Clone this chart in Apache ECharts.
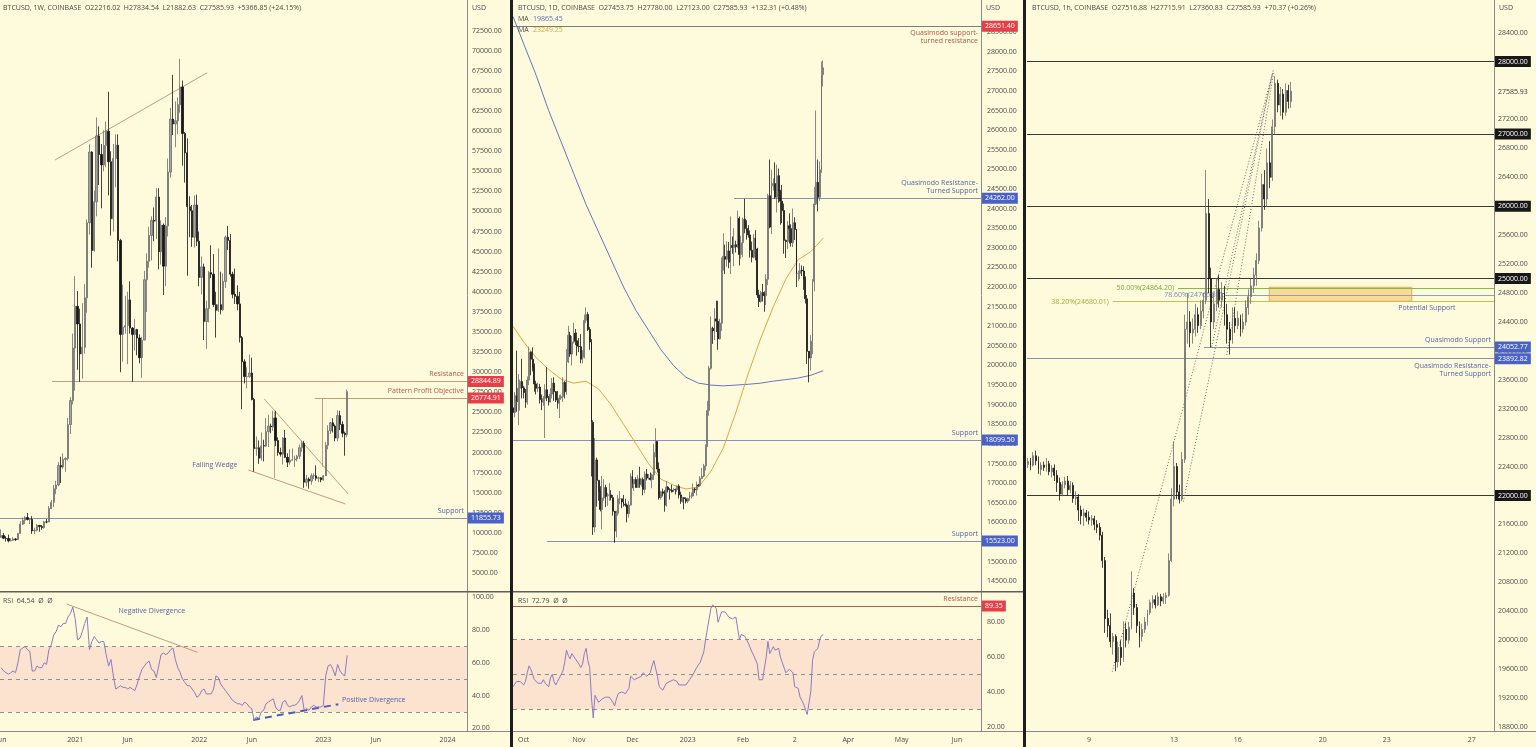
<!DOCTYPE html>
<html><head><meta charset="utf-8">
<script src="https://cdn.jsdelivr.net/npm/echarts@6/dist/echarts.min.js"></script>
<style>html,body{margin:0;padding:0;background:#fefbdc;overflow:hidden}#c{width:1536px;height:747px}</style>
</head><body><div id="c"></div>
<script>
// ---------------- DATA ----------------
const WEEKLY_START = '2020-06-01';
// weekly candles [open, close, low, high]
const WEEKLY = [
[9450,9670,9380,10430],[9670,9330,9230,9990],[9330,9300,8930,9590],[9300,9010,8830,9780],[9010,9070,8960,9330],
[9070,9240,9050,9480],[9240,9160,9000,9340],[9160,9930,9130,10000],[9930,11080,9920,11450],[11080,11570,10960,11900],
[11570,11910,11100,12100],[11910,11670,11550,12480],[11670,11680,11100,11740],[11680,10250,9880,12090],[10250,10330,9850,10650],
[10330,10930,10200,11100],[10930,10780,10150,10990],[10780,10670,10380,10980],[10670,11370,10520,11500],[11370,11360,11200,11720],
[11360,13030,11340,13350],[13030,13800,12950,14100],[13800,15480,13200,15960],[15480,15960,14820,16490],[15960,18400,15800,18800],
[18400,18200,16200,19480],[18200,19150,18000,19900],[19150,19270,17600,19400],[19270,23480,19000,24300],[23480,26470,22300,26900],
[26470,33000,26000,34800],[33000,38200,27700,41950],[38200,36000,30300,40100],[36000,32280,28800,37900],[32280,33100,29200,38600],
[33100,39250,32300,40960],[39250,48600,37400,49000],[48600,57400,47100,58350],[57400,45150,43000,57500],[45150,51200,45000,52600],
[51200,59400,49400,61700],[59400,57100,53300,60600],[57100,55800,50400,58400],[55800,58200,55000,60100],[58200,60000,55500,61200],
[60000,56200,52000,64900],[56200,49100,47000,57500],[49100,56600,47500,58400],[56600,58250,53000,59600],[58250,46400,43800,59600],
[46400,34700,30000,46600],[34700,35600,31300,40900],[35600,35800,34800,39500],[35800,39000,31000,40000],[39000,35500,34800,41300],
[35500,34700,28800,35600],[34700,35300,32700,36600],[35300,34250,32100,35400],[34250,31800,31100,34700],[31800,34000,29300,34400],
[34000,41500,34000,42600],[41500,43800,37500,44800],[43800,47000,43000,48100],[47000,48900,43900,49400],[48900,48800,46300,50500],
[48800,51800,46600,52900],[51800,45000,42800,52900],[45000,48300,43400,48900],[48300,43200,39600,48500],[43200,48200,40700,49300],
[48200,54900,46900,56600],[54900,61500,54200,62900],[61500,60900,59500,67000],[60900,61300,58000,63700],[61300,63300,59600,64200],
[63300,65500,62300,69000],[65500,59700,55700,66300],[59700,57300,53600,59900],[57300,50600,42000,59100],[50600,50100,46800,51900],
[50100,46800,45600,50800],[46800,50800,45500,52000],[50800,46300,45700,52100],[46300,41800,40700,47500],[41800,43100,39700,44400],
[43100,36300,34000,43500],[36300,37900,32900,38900],[37900,42400,36200,42600],[42400,42200,41700,45800],[42200,38400,38100,44700],
[38400,37700,34300,40000],[37700,38400,37500,45400],[38400,37800,37200,42500],[37800,41300,37600,42300],[41300,46800,40500,47000],
[46800,46400,45200,48200],[46400,42200,41900,47200],[42200,39700,39200,42500],[39700,39450,38500,42900],[39450,38500,37700,40800],
[38500,34300,33700,40000],[34300,31300,25400,34500],[31300,29450,28600,31600],[29450,29450,28000,30600],[29450,29900,29300,32200],
[29900,26600,26500,31800],[26600,20500,17600,26800],[20500,20600,19600,22000],[20600,19300,18600,21500],[19300,20850,19000,22500],
[20850,20800,18900,21600],[20800,22600,20700,24300],[22600,23300,20700,24700],[23300,23200,22400,23600],[23200,24300,22700,25200],
[24300,21500,20800,25200],[21500,20000,19600,21900],[20000,19800,19500,20600],[19800,21800,18500,21900],[21800,19400,19300,22800],
[19400,18800,18200,19900],[18800,19050,18500,20400],[19050,19100,19000,20500],[19100,19200,18200,19600],[19200,19550,18900,19700],
[19550,20600,19200,21000],[20600,21150,20100,21450],[21150,16300,15600,21450],[16300,16700,15800,17200],[16700,16450,15500,16900],
[16450,17100,16000,17400],[17100,17130,16700,17400],[17100,16800,16500,18400],[16800,16850,16300,17000],[16850,16600,16300,16950],
[16600,17100,16500,17200],[17100,20900,17100,21300],[20900,22700,20400,23400],[22700,23700,22300,23800],[23700,23300,22500,24250],
[23300,21800,21400,23500],[21800,24600,21400,25250],[24600,23500,22800,25200],[23500,22400,21900,23900],[22400,22216,19600,22600],
[22216,27586,21882,27835]
];
const WEEKLY_RSI = [57,55,54,53,54,55,54,60,68,69,70,68,67,55,55,58,57,57,60,59,68,71,77,79,83,82,84,84,88,90,94,87,74,75,79,84,88,68,73,76,
74,72,73,73,65,58,62,52,44,45,46,45,45,44,45,44,43,47,52,56,58,60,61,56,55,51,58,65,66,65,66,68,69,62,57,54,50,48,46,46,
44,42,39,40,43,44,41,41,41,44,52,51,47,45,43,41,39,37,36,35,35,34,36,35,33,32,25,27,26,30,31,35,36,37,38,33,31,31,36,37,
34,33,34,34,35,37,40,31,32,31,33,34,33,33,33,34,52,58,59,56,52,59,55,53,52,64.54];

const DAILY_START = '2022-09-25';
const DAILY = [
[18920,18800,18630,19180],[18800,19230,18680,19320],[19230,19080,18820,20380],[19080,19420,18480,19780],[19420,19590,18850,19640],[19590,19430,19160,20170],
[19430,19310,19160,19480],[19310,19060,18920,19400],[19060,19630,19000,19720],[19630,20340,19500,20480],[20340,20160,19750,20360],[20160,19960,19850,20460],
[19960,19530,19330,20050],[19530,19420,19260,19610],[19420,19450,19320,19560],[19450,19130,19030,19530],[19130,19060,18860,19260],[19060,19160,18970,19220],
[19160,19380,18150,19520],[19380,19180,19090,19950],[19180,19070,18980,19220],[19070,19270,19060,19420],[19270,19550,19160,19680],[19550,19330,19100,19700],
[19330,19120,19070,19350],[19120,19040,18900,19350],[19040,19170,18660,19250],[19170,19210,19120,19260],[19210,19570,19070,19700],[19570,19330,19160,19600],
[19330,20090,19250,20420],[20090,20770,20060,21010],[20770,20290,20220,20860],[20290,20600,20000,20750],[20600,20820,20560,21090],[20820,20630,20520,20930],
[20630,20490,20250,20840],[20490,20480,20340,20700],[20480,20160,20060,20800],[20160,20210,20050,20390],[20210,21150,20180,21300],[21150,21300,21080,21480],
[21300,20920,20880,21360],[20920,20600,20400,20980],[20600,18550,17170,20670],[18550,15880,15680,18600],[15880,17590,15750,18150],[17590,17070,16400,17650],
[17070,16800,16550,17070],[16800,16330,16280,16920],[16330,16620,15820,17180],[16620,16890,16550,17100],[16890,16660,16390,16960],[16660,16690,16420,16750],
[16690,16700,16550,17000],[16700,16630,16560,16820],[16630,16280,16170,16700],[16280,15780,15480,16290],[15780,16230,15620,16300],[16230,16600,16170,16700],
[16600,16600,16460,16800],[16600,16520,16360,16600],[16520,16460,16400,16700],[16460,16440,16400,16600],[16440,16220,16000,16480],[16220,16440,16120,16540],
[16440,17170,16430,17250],[17170,16980,16870,17330],[16980,17090,16800,17100],[17090,16890,16880,17150],[16890,17110,16880,17200],[17110,16970,16880,17420],
[16970,17090,16910,17110],[17090,16840,16690,17140],[16840,17230,16740,17300],[17230,17130,17070,17360],[17130,17130,17090,17230],[17130,17090,17070,17270],
[17090,17210,16870,17240],[17210,17780,17080,18000],[17780,18060,17660,18400],[18060,17360,17270,18070],[17360,16630,16580,17530],[16630,16780,16580,16800],
[16780,16740,16660,16860],[16740,16440,16270,16820],[16440,16900,16400,17050],[16900,16830,16760,16920],[16830,16820,16580,16870],[16820,16780,16760,16960],
[16780,16840,16770,16870],[16840,16830,16710,16860],[16830,16920,16780,16940],[16920,16700,16610,16970],[16700,16540,16470,16780],[16540,16630,16500,16650],
[16630,16600,16330,16640],[16600,16540,16480,16640],[16540,16610,16490,16630],[16610,16670,16550,16780],[16670,16670,16610,16760],[16670,16850,16660,16990],
[16850,16830,16750,16880],[16830,16950,16680,17040],[16950,16940,16910,16980],[16940,17120,16910,17180],[17120,17180,17100,17390],[17180,17440,17150,17490],
[17440,17940,17320,17990],[17940,18850,17920,19100],[18850,19930,18720,19990],[19930,20950,19890,21250],[20950,20880,20550,20990],[20880,21190,20650,21460],
[21190,21130,20850,21650],[21130,20680,20400,21650],[20680,21080,20660,21190],[21080,22670,20880,22750],[22670,22780,22420,23370],[22780,22710,22330,23080],
[22710,22920,22520,23170],[22920,22630,22480,23150],[22630,23060,22330,23800],[23060,23010,22850,23290],[23010,23080,22530,23500],[23080,23030,22880,23180],
[23030,23750,22990,23950],[23750,22830,22550,23800],[22830,23130,22720,23310],[23130,23730,22760,23770],[23730,23490,23370,24250],[23490,23430,23210,23700],
[23430,23330,23260,23580],[23330,22940,22750,23440],[22940,22760,22630,23160],[22760,23250,22730,23350],[23250,22970,22680,23450],[22970,21800,21720,23000],
[21800,21630,21490,21930],[21630,21860,21600,21900],[21860,21790,21630,22080],[21790,21780,21370,21890],[21780,22200,21540,22330],[22200,24330,22050,24380],
[24330,23530,23500,25250],[23530,24580,23350,24990],[24580,24640,24460,24770],[24640,24290,24250,25180],[24290,24840,23900,25120],[24840,24440,24150,25020],
[24440,24190,23590,24480],[24190,23950,23630,24600],[23950,23190,22850,24130],[23190,23160,22740,23210],[23160,23560,22970,23680],[23560,23490,23110,23880],
[23490,23130,23030,23600],[23130,23640,23020,24000],[23640,23470,23200,23780],[23470,22350,22000,23480],[22350,22350,22160,22420],[22350,22430,22200,22610],
[22430,22410,22280,22550],[22410,22200,21930,22530],[22200,21700,21580,22270],[21700,20360,20040,21800],[20360,20190,19570,20370],[20190,20620,19870,20770],
[20620,22140,20290,22200],[22140,24120,21890,24550],[24120,24670,24090,26500],[24670,24290,23930,25250],[24290,24990,24200,25200],[24990,27420,24910,27750],
[27420,27590,27120,27780]
];
const DAILY_RSI = [43,44,46,47,46,45,44,46,51,55,53,50,47,46,45,44,45,47,45,46,43,48,50,46,44,46,47,50,52,57,
64,61,59,62,63,59,58,56,54,56,62,65,58,54,37,25,38,36,34,35,36,37,37,36,37,36,34,32,36,39,
40,40,40,39,38,42,49,48,47,48,48,47,49,51,50,49,50,51,55,58,57,49,43,42,41,42,45,46,46,47,
47,48,46,44,43,44,43,44,45,47,46,50,52,54,55,57,60,63,70,76,82,88,90,89,88,80,81,86,87,86,
86,83,82,82,82,83,84,70,73,74,72,70,68,67,63,61,62,56,47,46,47,47,60,69,62,64,66,64,63,65,
60,57,56,51,50,53,52,51,43,42,42,37,35,33,30,27,27,40,58,63,62,65,70,72.5,72.79];
// moving averages [date, value]
const MA_BLUE = [['2022-09-25',28900],['2022-10-01',28200],['2022-10-08',27400],['2022-10-15',26500],['2022-10-22',25700],['2022-10-29',24900],
['2022-11-05',24100],['2022-11-12',23400],['2022-11-19',22700],['2022-11-26',22000],['2022-12-03',21400],['2022-12-10',20900],['2022-12-17',20400],
['2022-12-24',20000],['2022-12-31',19700],['2023-01-07',19550],['2023-01-14',19500],['2023-01-21',19480],['2023-01-28',19500],['2023-02-04',19520],
['2023-02-11',19550],['2023-02-18',19600],['2023-02-25',19640],['2023-03-04',19680],['2023-03-11',19750],['2023-03-18',19865.45]];
const MA_ORANGE = [['2022-09-25',21000],['2022-10-01',20600],['2022-10-08',20200],['2022-10-15',19900],['2022-10-22',19650],['2022-10-29',19550],
['2022-11-05',19600],['2022-11-12',19400],['2022-11-19',19000],['2022-11-26',18500],['2022-12-03',18000],['2022-12-10',17500],['2022-12-17',17100],
['2022-12-24',16950],['2022-12-31',16850],['2023-01-07',16900],['2023-01-14',17300],['2023-01-21',17900],['2023-01-28',18800],['2023-02-04',19800],
['2023-02-11',20700],['2023-02-18',21500],['2023-02-25',22200],['2023-03-04',22700],['2023-03-11',22900],['2023-03-18',23249.25]];

const HOURLY_START = '2023-03-06 03:00'; // 3-hour steps
const HOURLY = [
[22430,22470,22380,22520],[22470,22420,22350,22520],[22420,22550,22400,22600],[22550,22480,22420,22620],[22480,22360,22300,22540],[22360,22420,22280,22460],[22420,22390,22340,22470],
[22390,22440,22330,22520],[22440,22330,22280,22480],[22330,22380,22250,22420],[22380,22280,22200,22430],[22280,22180,22050,22350],[22180,22020,21930,22250],[22020,22150,21990,22200],[22150,22200,22100,22260],
[22200,22080,22000,22270],[22080,22140,22030,22200],[22140,21960,21900,22180],[21960,21980,21870,22060],[21980,21800,21650,22020],[21800,21720,21600,21860],[21720,21760,21580,21820],[21760,21700,21640,21800],
[21700,21660,21600,21780],[21660,21680,21580,21730],[21680,21600,21520,21720],[21600,21560,21480,21660],[21560,21450,21380,21620],[21450,21100,21000,21500],[21100,20300,20100,21150],[20300,20200,20040,20420],
[20200,19980,19900,20370],[19980,20050,19800,20100],[20050,19700,19570,20080],[19700,19900,19620,19980],[19900,19760,19650,20000],[19760,20150,19700,20260],[20150,20000,19900,20240],[20000,20180,19950,20250],
[20180,20650,20150,20950],[20650,20450,20350,20720],[20450,20200,20100,20500],[20200,20050,19900,20260],[20050,20150,19980,20230],[20150,20250,20100,20320],[20250,20380,20200,20420],[20380,20520,20350,20560],
[20520,20560,20440,20620],[20560,20490,20440,20620],[20490,20600,20470,20660],[20600,20540,20470,20640],[20540,20590,20500,20650],[20590,20620,20500,20660],[20620,21100,20600,21200],[21100,21950,21080,22100],
[21950,22400,21850,22750],[22400,22050,21950,22450],[22050,21950,21890,22150],[21950,22500,21920,22600],[22500,24300,22450,24500],[24300,24400,24100,24800],[24400,24250,24050,24550],[24250,24300,24100,24450],
[24300,24500,24200,24650],[24500,24350,24250,24600],[24350,24550,24300,24700],[24550,24700,24450,24800],[24700,25900,24650,26500],[25900,25000,24800,26100],[25000,24400,24050,25150],[24400,24650,24300,24800],
[24650,24850,24550,25000],[24850,24700,24600,25050],[24700,24800,24600,24950],[24800,24500,24350,24900],[24500,24300,24100,24650],[24300,24150,23950,24400],[24150,24450,24100,24600],[24450,24350,24250,24600],
[24350,24450,24300,24550],[24450,24300,24200,24500],[24300,24400,24250,24520],[24400,24600,24350,24700],[24600,24750,24500,24850],[24750,24900,24650,25000],[24900,25050,24800,25150],[25050,25250,24900,25350],
[25250,25700,25200,25800],[25700,26300,25650,26450],[26300,26100,25950,26500],[26100,26600,26000,26800],[26600,26400,26250,26900],[26400,27100,26350,27200],[27100,27700,27000,27800],[27700,27400,27300,27750],
[27400,27550,27250,27650],[27550,27300,27200,27620],[27300,27600,27250,27700],[27600,27450,27350,27680],[27450,27590,27360,27720]
];

// axis tick labels
const LEFT_TICKS = [5000,7500,10000,12500,15000,17500,20000,22500,25000,27500,30000,32500,35000,37500,40000,42500,45000,47500,50000,52500,55000,57500,60000,62500,65000,67500,70000,72500];
const MID_TICKS = [14500,15000,15500,16000,16500,17000,17500,18000,18500,19000,19500,20000,20500,21000,21500,22000,22500,23000,23500,24000,24500,25000,25500,26000,26500,27000,27500,28000,28500];
const RIGHT_TICKS = [18800,19200,19600,20000,20400,20800,21200,21600,22000,22400,22800,23200,23600,24000,24400,24800,25200,25600,26000,26400,26800,27200,27600,28000,28400];
const RSI_TICKS_L = [20,40,60,80,100];
const RSI_TICKS_M = [20,40,60,80];
const LEFT_XLABELS = [['2020-06-01','Jun'],['2021-01-04','2021'],['2021-06-07','Jun'],['2022-01-03','2022'],['2022-06-06','Jun'],['2023-01-02','2023'],['2023-06-05','Jun'],['2024-01-01','2024']];
const MID_XLABELS = [['2022-10-01','Oct'],['2022-11-01','Nov'],['2022-12-01','Dec'],['2023-01-01','2023'],['2023-02-01','Feb'],['2023-03-02','2'],['2023-04-01','Apr'],['2023-05-01','May'],['2023-06-01','Jun']];
const RIGHT_XLABELS = [['2023-03-09','9'],['2023-03-13','13'],['2023-03-16','16'],['2023-03-20','20'],['2023-03-23','23'],['2023-03-27','27']];

// annotation levels / drawings [date, price]
const L_RESIST = 28844.89, L_OBJECTIVE = 26774.91, L_SUPPORT = 11855.73;
const L_TOPLINE = [['2020-11-06',56408],['2022-01-26',67273]];
const L_WEDGE_UP = [['2022-07-13',26663],['2023-03-16',14840]];
const L_WEDGE_LO = [['2022-05-27',17827],['2023-03-08',13595]];
const L_VERT1 = [['2022-08-10',25082],['2022-08-10',16830]];
const L_VERT2 = [['2022-12-31',26788],['2022-12-31',18238]];
const L_RES_FROM = '2020-10-28', L_OBJ_FROM = '2022-12-08';
const L_WEDGE_TXT = ['2022-02-18',18448];
const L_NEGDIV = [['2020-12-10',95.9],['2021-12-29',66.4]];
const L_POSDIV = [['2022-06-10',25.1],['2023-02-15',34.7]];
const L_NEGDIV_TXT = ['2021-08-17',91.6], L_POSDIV_TXT = ['2023-02-26',37.3];
const M_QM_RES = 28651.40, M_QM_SUP = 24262.00, M_SUP1 = 18099.50, M_SUP2 = 15523.00, M_RSI_RES = 89.35;
const M_QM_SUP_FROM = '2023-01-27', M_SUP2_FROM = '2022-10-14';
const R_BLACK = [28000,27000,26000,25000,22000];
const R_QM_SUP = 24052.77, R_QM_RTS = 23892.82, R_LAST = 27585.93;
const R_QM_SUP_FROM = '2023-03-14 09:50';
const R_FIB = [['50.00%(24864.20)',24864.20,'2023-03-13 04:30','#86b94a','#6fa83a'],['38.20%(24680.01)',24680.01,'2023-03-10 03:00','#c6bf52','#aaa636'],['78.60%(24766.80)',24766.80,'2023-03-15 10:30','#8aa3bd','#6f8fb0']];
const R_ZONE = [['2023-03-17 11:30',24880],['2023-03-24 04:20',24686]];
const R_ZONE_TXT = ['2023-03-24 21:30',24597];
const R_DOTTED = [
 [['2023-03-10 02:20',19564],['2023-03-17 15:40',27861]],
 [['2023-03-13 10:30',21915],['2023-03-17 15:00',27830]],
 [['2023-03-14 18:30',24058],['2023-03-17 16:00',27880]],
 [['2023-03-15 11:30',23943],['2023-03-17 16:30',27850]]
];

// ---------------- BUILD ----------------
const D = s => { const m = s.match(/(\d+)-(\d+)-(\d+)(?:[ T](\d+)(?::(\d+))?)?/); return Date.UTC(+m[1], m[2]-1, +m[3], +(m[4]||0), +(m[5]||0)); };
const HOUR = 3600e3, DAY = 24*HOUR, WEEK = 7*DAY;
const L_XMIN = D('2020-06-01') - 0.503*WEEK, L_XMAX = L_XMIN + 195.72*WEEK;
const M_XMIN = D('2022-10-01') - 6.0*DAY,   M_XMAX = M_XMIN + 262.48*DAY;
const R_XMIN = D('2023-03-09') - 2.916*DAY, R_XMAX = R_XMIN + 21.966*DAY;

const FONT = "'Open Sans', 'DejaVu Sans', sans-serif";
const TXT = '#4a4a4a', BROWN = '#b0553f', BLUE = '#5563a8', TAN = '#c39c7c', BLINE = '#8790b6';
const RED_BG = '#e5404a', BLUE_BG = '#4a62c6', BLACK_BG = '#171717';
const CANDLE = {color:'#a4a4a4', color0:'#151515', borderColor:'#6c6c6c', borderColor0:'#151515', borderWidth:0.8};
const lbl = (o) => Object.assign({show:true, fontSize:7, fontFamily:FONT, lineHeight:8}, o);
const P = p => [typeof p[0] === 'string' ? D(p[0]) : p[0], p[1]];
const seg = (a, b, style, label) => [{coord: P(a), lineStyle: Object.assign({width:1, type:'solid'}, style), label: label ? lbl(label) : {show:false}}, {coord: P(b)}];
const badge = (v, text, bg, fg) => ({yAxis: v, lineStyle:{color:'rgba(0,0,0,0)', width:1}, label: lbl({position:'end', distance:1, formatter:text, backgroundColor:bg, color:fg||'#fff', padding:[2,3,1,3]})});
const txt = (p, text, color, align) => ({coord: P(p), symbol:'rect', symbolSize:1, itemStyle:{color:'rgba(0,0,0,0)'}, label: lbl({position:'inside', formatter:text, color, align: align||'center'})});

function yAx(gi, min, max, ticks, margin) {
  return {type:'value', gridIndex:gi, position:'right', min, max, splitLine:{show:false}, axisTick:{show:false},
    axisLine:{show:true, lineStyle:{color:'#8a8a8a', width:1}},
    axisLabel:{customValues: ticks, formatter: v => v.toFixed(2), color:TXT, fontSize:7, fontFamily:FONT, margin}};
}
function xAx(gi, min, max, labels) {
  const map = {}; (labels||[]).forEach(l => { map[D(l[0])] = l[1]; });
  return {type:'value', gridIndex:gi, min, max, splitLine:{show:false}, axisTick:{show:false}, axisLine:{show:false},
    axisLabel: labels ? {customValues: labels.map(l => D(l[0])), formatter: v => map[v] || '', color:TXT, fontSize:7, fontFamily:FONT, margin:5} : {show:false}};
}
const rsiBand = {silent:true, itemStyle:{color:'#fce3cf'}, data:[[{yAxis:70},{yAxis:30}]]};
const dashed = [70,50,30].map(v => ({yAxis:v, lineStyle:{color:'#8f8f8f', width:1, type:[4,4]}, label:{show:false}}));

const wk = WEEKLY.map((r,i) => [D(WEEKLY_START)+i*WEEK, ...r]);
const wkRsi = WEEKLY_RSI.map((v,i) => [D(WEEKLY_START)+i*WEEK, v]);
const dy = DAILY.map((r,i) => [D(DAILY_START)+i*DAY, ...r]);
const dyRsi = DAILY_RSI.map((v,i) => [D(DAILY_START)+i*DAY, v]);
const hr = HOURLY.map((r,i) => [D(HOURLY_START)+i*3*HOUR, ...r]);

const option = {
  animation:false, backgroundColor:'#fefbdc',
  grid:[
    {left:0, top:0, width:467, height:591, outerBoundsMode:'none', containLabel:false},
    {left:0, top:592, width:467, height:139, outerBoundsMode:'none', containLabel:false},
    {left:513, top:0, width:468, height:591, outerBoundsMode:'none', containLabel:false},
    {left:513, top:592, width:468, height:139, outerBoundsMode:'none', containLabel:false},
    {left:1027, top:0, width:467, height:731, outerBoundsMode:'none', containLabel:false}
  ],
  xAxis:[ xAx(0,L_XMIN,L_XMAX), xAx(1,L_XMIN,L_XMAX,LEFT_XLABELS), xAx(2,M_XMIN,M_XMAX), xAx(3,M_XMIN,M_XMAX,MID_XLABELS), xAx(4,R_XMIN,R_XMAX,RIGHT_XLABELS) ],
  yAxis:[ yAx(0,2768,76321,LEFT_TICKS,5), yAx(1,18.35,103.24,RSI_TICKS_L,5), yAx(2,14249,29319.5,MID_TICKS,6), yAx(3,17.53,97.41,RSI_TICKS_M,6), yAx(4,18744,28852,RIGHT_TICKS,4) ],
  series:[
    {type:'candlestick', xAxisIndex:0, yAxisIndex:0, data:wk, barWidth:1.8, itemStyle:CANDLE, z:3, silent:true},
    {type:'line', xAxisIndex:0, yAxisIndex:0, data:[], clip:false, z:1, silent:true,
      markLine:{symbol:['none','none'], silent:true, z:1, label:{show:false}, data:[
        seg(L_TOPLINE[0], L_TOPLINE[1], {color:TAN}),
        seg([L_RES_FROM,L_RESIST],[L_XMAX,L_RESIST], {color:TAN}, {position:'insideEndTop', formatter:'Resistance', color:BROWN, distance:3}),
        seg([L_OBJ_FROM,L_OBJECTIVE],[L_XMAX,L_OBJECTIVE], {color:TAN}, {position:'insideEndTop', formatter:'Pattern Profit Objective', color:BROWN, distance:3}),
        seg([L_XMIN,L_SUPPORT],[L_XMAX,L_SUPPORT], {color:BLINE}, {position:'insideEndTop', formatter:'Support', color:BLUE, distance:3}),
        seg(L_WEDGE_UP[0], L_WEDGE_UP[1], {color:TAN}), seg(L_WEDGE_LO[0], L_WEDGE_LO[1], {color:TAN}),
        seg(L_VERT1[0], L_VERT1[1], {color:TAN}), seg(L_VERT2[0], L_VERT2[1], {color:TAN}),
        badge(L_RESIST,'28844.89',RED_BG), badge(L_OBJECTIVE,'26774.91',RED_BG), badge(L_SUPPORT,'11855.73',BLUE_BG)
      ]},
      markPoint:{silent:true, z:1, data:[ txt(L_WEDGE_TXT,'Falling Wedge',BLUE) ]}
    },
    {type:'line', xAxisIndex:1, yAxisIndex:1, data:wkRsi, showSymbol:false, symbol:'none', lineStyle:{color:'#8b7cc0', width:1}, z:3, silent:true,
      markArea:rsiBand,
      markLine:{symbol:['none','none'], silent:true, z:2, label:{show:false}, data:[...dashed,
        seg(L_NEGDIV[0], L_NEGDIV[1], {color:TAN}),
        seg(L_POSDIV[0], L_POSDIV[1], {color:'#4a5cc0', width:2, type:[7,5]})
      ]},
      markPoint:{silent:true, z:4, data:[ txt(L_NEGDIV_TXT,'Negative Divergence',BLUE), txt(L_POSDIV_TXT,'Positive Divergence',BLUE,'left') ]}
    },
    {type:'candlestick', xAxisIndex:2, yAxisIndex:2, data:dy, barWidth:1.4, itemStyle:CANDLE, z:3, silent:true},
    {type:'line', xAxisIndex:2, yAxisIndex:2, data:MA_BLUE.map(P), showSymbol:false, symbol:'none', lineStyle:{color:'#6474c8', width:1}, z:2, silent:true},
    {type:'line', xAxisIndex:2, yAxisIndex:2, data:MA_ORANGE.map(P), showSymbol:false, symbol:'none', lineStyle:{color:'#e3a73c', width:1}, z:2, silent:true},
    {type:'line', xAxisIndex:2, yAxisIndex:2, data:[], clip:false, z:1, silent:true,
      markLine:{symbol:['none','none'], silent:true, z:1, label:{show:false}, data:[
        seg([M_XMIN,M_QM_RES],[M_XMAX,M_QM_RES], {color:'#7d7d7d'}, {position:'insideEndBottom', formatter:'Quasimodo support-\nturned resistance', color:BROWN, align:'right', distance:3}),
        seg([M_QM_SUP_FROM,M_QM_SUP],[M_XMAX,M_QM_SUP], {color:BLINE}, {position:'insideEndTop', formatter:'Quasimodo Resistance-\nTurned Support', color:BLUE, align:'right', distance:3}),
        seg([M_XMIN,M_SUP1],[M_XMAX,M_SUP1], {color:BLINE}, {position:'insideEndTop', formatter:'Support', color:BLUE, distance:3}),
        seg([M_SUP2_FROM,M_SUP2],[M_XMAX,M_SUP2], {color:BLINE}, {position:'insideEndTop', formatter:'Support', color:BLUE, distance:3}),
        badge(M_QM_RES,'28651.40',RED_BG), badge(M_QM_SUP,'24262.00',BLUE_BG), badge(M_SUP1,'18099.50',BLUE_BG), badge(M_SUP2,'15523.00',BLUE_BG)
      ]}
    },
    {type:'line', xAxisIndex:3, yAxisIndex:3, data:dyRsi, showSymbol:false, symbol:'none', lineStyle:{color:'#8b7cc0', width:1}, z:3, silent:true,
      markArea:rsiBand,
      markLine:{symbol:['none','none'], silent:true, z:2, label:{show:false}, data:[...dashed,
        seg([M_XMIN,M_RSI_RES],[M_XMAX,M_RSI_RES], {color:'#b5604c'}, {position:'insideEndTop', formatter:'Resistance', color:BROWN, distance:3}),
        badge(M_RSI_RES,'89.35',RED_BG)
      ]}
    },
    {type:'candlestick', xAxisIndex:4, yAxisIndex:4, data:hr, barWidth:1.4, itemStyle:CANDLE, z:3, silent:true},
    {type:'line', xAxisIndex:4, yAxisIndex:4, data:[], clip:false, z:1, silent:true,
      markArea:{silent:true, z:1, itemStyle:{color:'rgba(248,196,105,0.6)', borderColor:'#e2ad48', borderWidth:1},
        data:[[{coord:P(R_ZONE[0])},{coord:P(R_ZONE[1])}]]},
      markLine:{symbol:['none','none'], silent:true, z:1, label:{show:false}, data:[
        ...R_BLACK.map(v => ({yAxis:v, lineStyle:{color:'#3a3a3a', width:1, type:'solid'}, label:lbl({position:'end', distance:1, formatter:v.toFixed(2), backgroundColor:BLACK_BG, color:'#fff', padding:[2,3,1,3]})})),
        seg([R_QM_SUP_FROM,R_QM_SUP],[R_XMAX,R_QM_SUP], {color:BLINE}, {position:'insideEndTop', formatter:'Quasimodo Support', color:BLUE, distance:3}),
        seg([R_XMIN,R_QM_RTS],[R_XMAX,R_QM_RTS], {color:BLINE}, {position:'insideEndBottom', formatter:'Quasimodo Resistance-\nTurned Support', color:BLUE, align:'right', distance:3}),
        badge(R_QM_SUP,'24052.77',BLUE_BG), badge(R_QM_RTS,'23892.82',BLUE_BG),
        badge(R_LAST,'27585.93','#fefbdc','#333'),
        ...R_FIB.map(f => seg([f[2],f[1]],[R_XMAX,f[1]], {color:f[3]}, {position:'start', formatter:f[0], color:f[4], distance:4})),
        ...R_DOTTED.map(d => seg(d[0], d[1], {color:'#6a6a6a', type:[1,2]}))
      ]},
      markPoint:{silent:true, z:1, data:[ txt(R_ZONE_TXT,'Potential Support',BLUE) ]}
    }
  ],
  graphic:[
    {type:'rect', shape:{x:0, y:591, width:1023, height:1.6}, style:{fill:'#5e5e5e'}, z:90},
    {type:'rect', shape:{x:0, y:731, width:1536, height:1}, style:{fill:'#8a8a8a'}, z:90},
    {type:'rect', shape:{x:510, y:0, width:3, height:747}, style:{fill:'#1d1d1d'}, z:100},
    {type:'rect', shape:{x:1023, y:0, width:3, height:747}, style:{fill:'#1d1d1d'}, z:100},
    ...[
      [3,8,'BTCUSD, 1W, COINBASE  O22216.02  H27834.54  L21882.63  C27585.93  +5366.85 (+24.15%)',TXT],
      [518,8,'BTCUSD, 1D, COINBASE  O27453.75  H27780.00  L27123.00  C27585.93  +132.31 (+0.48%)',TXT],
      [1032,8,'BTCUSD, 1h, COINBASE  O27516.88  H27715.91  L27360.83  C27585.93  +70.37 (+0.26%)',TXT],
      [518,19,'MA',TXT],[533,19,'19865.45','#5d6dc0'],[518,30,'MA',TXT],[533,30,'23249.25','#e0a43a'],
      [3,601,'RSI  64.54  Ø  Ø',TXT],[518,601,'RSI  72.79  Ø  Ø',TXT],
      [472,8,'USD',TXT],[986,8,'USD',TXT],[1499,8,'USD',TXT]
    ].map(t => ({type:'text', x:t[0], y:t[1], z:95, style:{text:t[2], fill:t[3], fontSize:7, fontFamily:FONT, verticalAlign:'middle'}}))
  ]
};
const chart = echarts.init(document.getElementById('c'), null, {renderer:'canvas'});
chart.setOption(option);
</script></body></html>
